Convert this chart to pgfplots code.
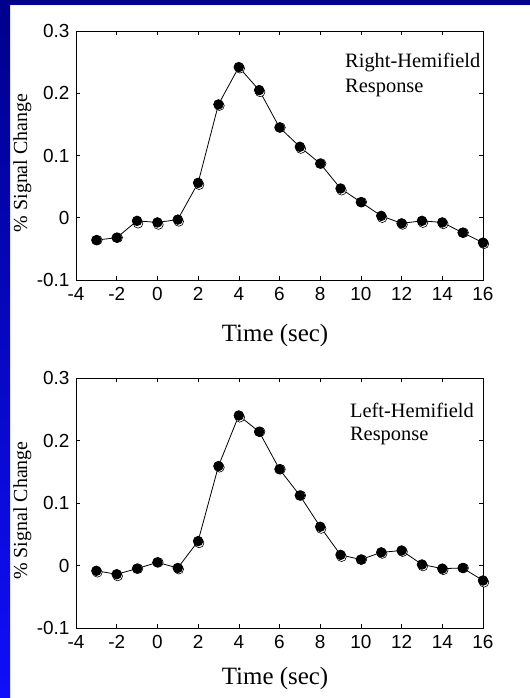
\documentclass[border=0pt]{standalone}
\usepackage{pgfplots}
\usepackage{pgfplotstable}
\pgfplotsset{compat=1.18}
\usepackage{fontspec}
\setmainfont{Liberation Serif}
\newfontfamily\sansf{Liberation Sans}
\definecolor{navy}{RGB}{0,0,140}
\definecolor{brightblue}{RGB}{15,15,250}

\pgfplotstableread{
x y
-3 -0.036
-2 -0.032
-1 -0.005
0 -0.0075
1 -0.003
2 0.056
3 0.182
4 0.242
5 0.205
6 0.145
7 0.114
8 0.087
9 0.047
10 0.025
11 0.003
12 -0.009
13 -0.005
14 -0.0075
15 -0.024
16 -0.040
}\rightdata

\pgfplotstableread{
x y
-2.95 -0.036
-1.95 -0.032
-0.95 -0.009
0.05 -0.011
1.05 -0.006
2.05 0.053
3.05 0.180
4.05 0.240
5.05 0.202
6.05 0.145
7.05 0.111
8.05 0.087
9.05 0.044
10.05 0.025
11.05 0.000
12.05 -0.011
13.05 -0.008
14.05 -0.010
15.05 -0.024
16.05 -0.042
}\rightshadow

\pgfplotstableread{
x y
-3 -0.0085
-2 -0.014
-1 -0.005
0 0.005
1 -0.004
2 0.039
3 0.159
4 0.240
5 0.214
6 0.154
7 0.112
8 0.062
9 0.017
10 0.0095
11 0.021
12 0.024
13 0.0016
14 -0.005
15 -0.004
16 -0.024
}\leftdata

\pgfplotstableread{
x y
-2.95 -0.011
-1.95 -0.017
-0.95 -0.005
0.05 0.005
1.05 -0.006
2.05 0.036
3.05 0.157
4.05 0.237
5.05 0.214
6.05 0.154
7.05 0.112
8.05 0.059
9.05 0.014
10.05 0.0095
11.05 0.019
12.05 0.022
13.05 -0.001
14.05 -0.007
15.05 -0.004
16.05 -0.027
}\leftshadow

\pgfplotsset{
  myaxis/.style={
    scale only axis,
    width=407bp,
    xmin=-4, xmax=16, ymin=-0.1, ymax=0.3,
    xtick={-4,-2,0,2,4,6,8,10,12,14,16},
    xticklabels={-4,-2,0,2,4,6,8,10,12,14,16},
    ytick={-0.1,0,0.1,0.2,0.3},
    yticklabels={-0.1,0,0.1,0.2,0.3},
    tick label style={font=\sansf\fontsize{19}{19}\selectfont},
    xticklabel style={yshift=-3.5bp},
    yticklabel style={xshift=-3bp},
    axis line style={line width=0.8bp, black},
    major tick length=4bp,
    tick style={black, line width=0.6bp},
    tick align=inside,
    clip=false,
    ylabel={\% Signal Change},
    ylabel style={font=\fontsize{20}{20}\selectfont, at={(axis description cs:-0.12,0.47)}, anchor=base},
    xlabel={Time (sec)},
    xlabel style={font=\fontsize{25}{25}\selectfont, anchor=base},
  },
  shadowplot/.style={only marks, mark=*, mark size=4.8bp, mark options={fill=white, draw=black, line width=0.6bp}},
  mainplot/.style={black, line width=0.8bp, mark=*, mark size=4.8bp, mark options={fill=black, draw=black}},
}

\begin{document}
\begin{tikzpicture}
\useasboundingbox (0,0) rectangle (530bp,698bp);
\fill[white] (0,0) rectangle (530bp,698bp);
\shade[top color=navy, bottom color=brightblue] (0,0) rectangle (10bp,698bp);
\fill[navy] (0,693bp) rectangle (530bp,698bp);

\begin{axis}[myaxis, height=249bp, at={(76bp,418bp)}, anchor=south west,
  xlabel style={at={(axis description cs:0.489,-0.249)}}]
\addplot[shadowplot] table {\rightshadow};
\addplot[mainplot] table {\rightdata};
\node[anchor=base west, font=\fontsize{20.5}{20.5}\selectfont, inner sep=0pt] at (axis description cs:0.661,0.855) {Right-Hemifield};
\node[anchor=base west, font=\fontsize{20.5}{20.5}\selectfont, inner sep=0pt] at (axis description cs:0.661,0.751) {Response};
\end{axis}

\begin{axis}[myaxis, height=250bp, at={(76bp,70bp)}, anchor=south west,
  xlabel style={at={(axis description cs:0.489,-0.228)}}]
\addplot[shadowplot] table {\leftshadow};
\addplot[mainplot] table {\leftdata};
\node[anchor=base west, font=\fontsize{20.5}{20.5}\selectfont, inner sep=0pt] at (axis description cs:0.673,0.844) {Left-Hemifield};
\node[anchor=base west, font=\fontsize{20.5}{20.5}\selectfont, inner sep=0pt] at (axis description cs:0.673,0.752) {Response};
\end{axis}
\end{tikzpicture}
\end{document}
